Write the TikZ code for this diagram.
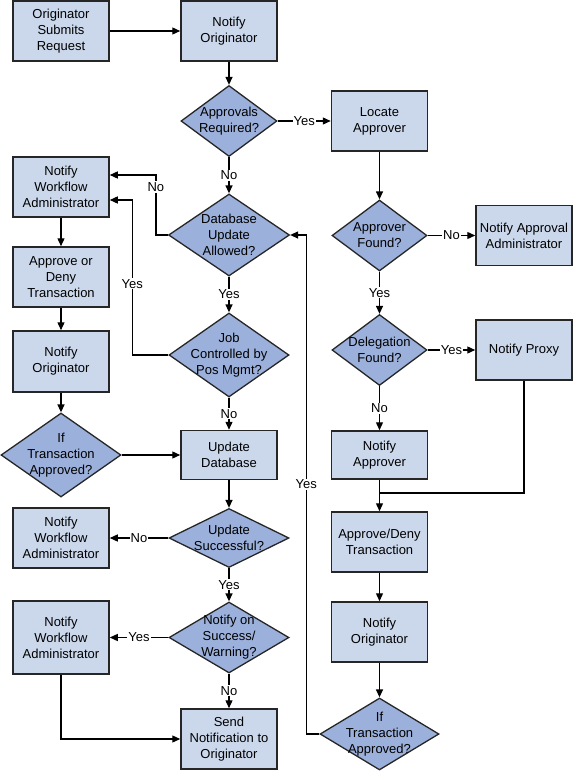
\documentclass[tikz,border=0pt]{standalone}
\usepackage{fontspec}
\setmainfont{Liberation Sans}
\usetikzlibrary{shapes.geometric,arrows.meta}
\definecolor{boxblue}{HTML}{CBD8EC}
\definecolor{diablue}{HTML}{9BB0DA}
\begin{document}
\begin{tikzpicture}[x=1pt, y=-1pt, line width=1.3pt,
    every node/.style={font=\fontsize{13}{16}\selectfont, align=center},
    stepbox/.style={rectangle, draw=black!85, fill=boxblue, line width=1.5pt, minimum width=96pt, minimum height=60pt, inner sep=0pt},
    decision/.style={diamond, draw=black!85, fill=diablue, inner sep=0pt},
    arr/.style={-{Triangle[length=8pt,width=7pt]}},
    lbl/.style={fill=white, inner sep=1pt}]
    \useasboundingbox (0,0) rectangle (573,771);
    % right-hand approval branch
    \node [stepbox] (submit) at (61,31) {Originator\\Submits\\Request};
    \node [stepbox] (notorig) at (229,31) {Notify\\Originator};
    \node [decision, minimum width=96pt, minimum height=71pt, label={center:{Approvals\\Required?}}] (apprq) at (229,121) {};
    \node [stepbox] (locate) at (379.5,121) {Locate\\Approver};
    \node [decision, minimum width=95pt, minimum height=71pt, label={center:{Approver\\Found?}}] (found) at (379.5,235.5) {};
    \node [stepbox] (napadm) at (524,235.5) {Notify Approval\\Administrator};
    \node [decision, minimum width=95pt, minimum height=71pt, label={center:{Delegation\\Found?}}] (deleg) at (379.5,350) {};
    \node [stepbox] (proxy) at (524,350) {Notify Proxy};
    \node [stepbox, minimum height=48pt] (napprv) at (379.5,455) {Notify\\Approver};
    \coordinate (join) at (379.5,493);
    \node [stepbox] (apdeny) at (379.5,542) {Approve/Deny\\Transaction};
    \node [stepbox] (norig2) at (379.5,632) {Notify\\Originator};
    \node [decision, minimum width=119pt, minimum height=72pt, label={center:{If\\Transaction\\Approved?}}] (ifappr2) at (379.5,734) {};
    % database update column
    \node [decision, minimum width=121pt, minimum height=82pt, label={center:{Database\\Update\\Allowed?}}] (dbok) at (229,235) {};
    \node [decision, minimum width=120pt, minimum height=84pt, label={center:{Job\\Controlled by\\Pos Mgmt?}}] (jobctl) at (229,355) {};
    \node [stepbox, minimum height=49pt] (upddb) at (229,455) {Update\\Database};
    \node [decision, minimum width=120pt, minimum height=59pt, label={center:{Update\\Successful?}}] (updok) at (229,538) {};
    \node [decision, minimum width=120pt, minimum height=71pt, label={center:{Notify on\\Success/\\Warning?}}] (notsucc) at (229,637.5) {};
    \node [stepbox] (send) at (229,739) {Send\\Notification to\\Originator};
    % left column
    \node [stepbox] (nwfa1) at (61,187) {Notify\\Workflow\\Administrator};
    \node [stepbox] (apordeny) at (61,277) {Approve or\\Deny\\Transaction};
    \node [stepbox, minimum height=61pt] (norig1) at (61,361.5) {Notify\\Originator};
    \node [decision, minimum width=120pt, minimum height=84pt, label={center:{If\\Transaction\\Approved?}}] (ifappr1) at (61,455) {};
    \node [stepbox] (nwfa2) at (61,538) {Notify\\Workflow\\Administrator};
    \node [stepbox, minimum height=73pt] (nwfa3) at (61,637.5) {Notify\\Workflow\\Administrator};
    % connectors
    \draw [arr] (submit) -- (notorig);
    \draw [arr] (notorig) -- (apprq);
    \draw [arr] (apprq) -- node [lbl] {Yes} (locate);
    \draw [arr] (apprq) -- node [lbl] {No} (dbok);
    \draw [arr] (locate) -- (found);
    \draw [arr] (found) -- node [lbl] {No} (napadm);
    \draw [arr] (found) -- node [lbl] {Yes} (deleg);
    \draw [arr] (deleg) -- node [lbl] {Yes} (proxy);
    \draw [arr] (deleg) -- node [lbl] {No} (napprv);
    \draw [arr] (napprv) -- (apdeny);
    \draw (proxy.south) |- (join);
    \draw [arr] (apdeny) -- (norig2);
    \draw [arr] (norig2) -- (ifappr2);
    \draw [arr] (ifappr2.west) -- ++(-13,0) |- node [lbl, pos=0.25] {Yes} (dbok.east);
    \draw [arr] (dbok.west) -- ++(-12,0) |- node [lbl, pos=0.4] {No} ([yshift=12pt]nwfa1.east);
    \draw [arr] (dbok) -- node [lbl] {Yes} (jobctl);
    \draw [arr] (jobctl.west) -- ++(-36,0) |- node [lbl, pos=0.23] {Yes} ([yshift=-13pt]nwfa1.east);
    \draw [arr] (jobctl) -- node [lbl] {No} (upddb);
    \draw [arr] (nwfa1) -- (apordeny);
    \draw [arr] (apordeny) -- (norig1);
    \draw [arr] (norig1) -- (ifappr1);
    \draw [arr] (ifappr1) -- (upddb);
    \draw [arr] (upddb) -- (updok);
    \draw [arr] (updok) -- node [lbl] {No} (nwfa2);
    \draw [arr] (updok) -- node [lbl] {Yes} (notsucc);
    \draw [arr] (notsucc) -- node [lbl] {Yes} (nwfa3);
    \draw [arr] (notsucc) -- node [lbl] {No} (send);
    \draw [arr] (nwfa3) |- (send);
\end{tikzpicture}
\end{document}
